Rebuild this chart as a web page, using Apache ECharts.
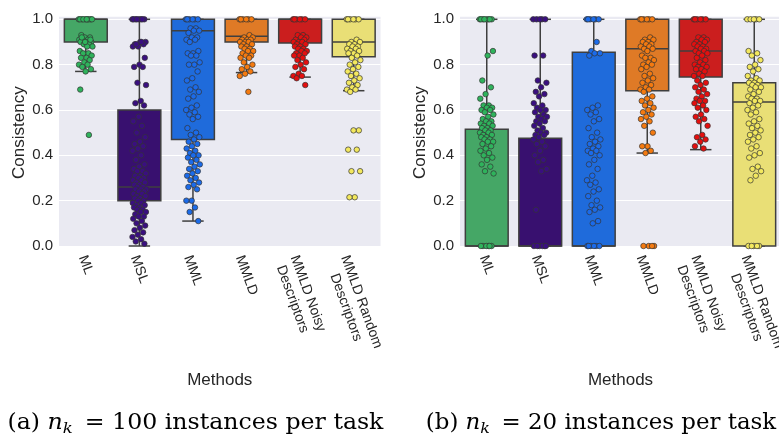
<!DOCTYPE html>
<html>
<head>
<meta charset="utf-8">
<script src="https://cdn.jsdelivr.net/npm/echarts@6/dist/echarts.min.js"></script>
<style>
  html, body { margin: 0; padding: 0; background: #ffffff; }
  #chart { width: 779px; height: 439px; }
</style>
</head>
<body>
<div id="chart"></div>
<script>
// Methods compared on the x axis
const methods = ['ML', 'MSL', 'MML', 'MMLD', 'MMLD Noisy\nDescriptors', 'MMLD Random\nDescriptors'];
const yTicks = [0, 0.2, 0.4, 0.6, 0.8, 1.0];

// Box statistics per method: [lower whisker, Q1, median, Q3, upper whisker]
const box100 = [
  [0.77, 0.90, 1.00, 1.00, 1.00],
  [0.00, 0.20, 0.26, 0.60, 1.00],
  [0.11, 0.47, 0.95, 1.00, 1.00],
  [0.765, 0.90, 0.925, 1.00, 1.00],
  [0.745, 0.895, 1.00, 1.00, 1.00],
  [0.685, 0.835, 0.90, 1.00, 1.00]
];
const box20 = [
  [0.00, 0.00, 0.00, 0.515, 1.00],
  [0.00, 0.00, 0.00, 0.475, 1.00],
  [0.00, 0.00, 0.00, 0.855, 1.00],
  [0.41, 0.685, 0.87, 1.00, 1.00],
  [0.425, 0.745, 0.86, 1.00, 1.00],
  [0.00, 0.00, 0.635, 0.72, 1.00]
];

// Per-task consistency, n_k = 100
const ml100 = [1,1,1,1,1,1,1,1,1,1,0.93,0.92,0.92,0.91,0.91,0.91,0.90,0.90,0.90,0.89,0.89,0.88,0.88,0.92,0.91,0.90,
  0.86,0.85,0.85,0.84,0.83,0.83,0.82,0.81,0.80,0.80,0.79,0.78,0.77,0.69,0.49];
const msl100 = [1,1,1,1,1,1,1,1,0.90,0.90,0.89,0.89,0.88,0.88,0.90,0.89,0.83,0.80,0.79,0.79,0.72,0.71,0.64,0.63,0.62,
  0.57,0.55,0.53,0.50,0.48,0.46,0.45,0.44,0.43,0.42,0.40,0.38,0.36,0.35,0.34,0.33,0.33,0.32,0.31,0.31,0.30,0.30,0.29,
  0.29,0.28,0.28,0.27,0.27,0.26,0.26,0.25,0.25,0.25,0.24,0.24,0.23,0.23,0.22,0.22,0.21,0.21,0.20,0.20,0.19,0.19,0.18,
  0.18,0.17,0.17,0.16,0.16,0.15,0.15,0.14,0.13,0.13,0.12,0.11,0.10,0.09,0.08,0.07,0.06,0.05,0.04,0.03,0.02,0.01];
const mml100 = [1,1,1,1,1,1,0.96,0.96,0.95,0.95,0.94,0.92,0.92,0.91,0.91,0.90,0.86,0.85,0.85,0.84,0.84,0.81,0.80,0.80,
  0.77,0.74,0.73,0.70,0.69,0.68,0.66,0.65,0.62,0.61,0.60,0.59,0.58,0.57,0.56,0.52,0.50,0.49,0.48,0.47,0.46,0.45,0.44,
  0.43,0.42,0.41,0.40,0.40,0.39,0.38,0.37,0.36,0.35,0.34,0.33,0.32,0.31,0.30,0.29,0.28,0.27,0.26,0.25,0.20,0.20,0.17,
  0.15,0.11];
const mmld100 = [1,1,1,1,1,1,0.93,0.92,0.92,0.91,0.91,0.91,0.90,0.90,0.90,0.89,0.89,0.88,0.88,0.87,0.87,0.86,0.86,0.85,
  0.84,0.84,0.83,0.83,0.81,0.80,0.79,0.78,0.77,0.76,0.75,0.68];
const noisy100 = [1,1,1,1,1,1,0.93,0.93,0.92,0.92,0.91,0.91,0.90,0.90,0.90,0.89,0.89,0.88,0.88,0.87,0.87,0.86,0.86,
  0.85,0.85,0.84,0.84,0.83,0.82,0.81,0.80,0.79,0.78,0.76,0.75,0.75,0.74,0.71];
const random100 = [1,1,1,1,1,1,0.91,0.90,0.90,0.89,0.89,0.88,0.88,0.87,0.87,0.86,0.86,0.85,0.85,0.84,0.83,0.82,0.81,
  0.80,0.79,0.78,0.77,0.76,0.75,0.74,0.73,0.72,0.71,0.70,0.69,0.69,0.68,0.51,0.51,0.425,0.425,0.33,0.33,0.215,0.215];

// Per-task consistency, n_k = 20
const ml20 = [1,1,1,1,1,1,1,1,0.86,0.84,0.73,0.70,0.67,0.65,0.62,0.62,0.61,0.61,0.60,0.60,0.59,0.58,0.57,0.56,0.55,
  0.55,0.54,0.54,0.53,0.53,0.52,0.52,0.51,0.51,0.50,0.50,0.49,0.49,0.48,0.48,0.47,0.47,0.46,0.46,0.45,0.44,0.43,0.42,
  0.41,0.40,0.39,0.38,0.36,0.35,0.33,0.32,0,0,0,0,0,0];
const msl20 = [1,1,1,1,1,0.84,0.84,0.73,0.72,0.70,0.68,0.67,0.66,0.63,0.62,0.61,0.60,0.60,0.59,0.58,0.57,0.57,0.56,
  0.55,0.55,0.54,0.53,0.52,0.51,0.50,0.50,0.49,0.49,0.48,0.47,0.46,0.45,0.44,0.42,0.40,0.38,0.37,0.34,0.33,0.16,
  0,0,0,0,0,0];
const mml20 = [1,1,1,1,1,1,0.90,0.86,0.85,0.85,0.84,0.62,0.61,0.60,0.59,0.58,0.56,0.55,0.52,0.50,0.48,0.47,0.46,0.45,
  0.44,0.43,0.42,0.42,0.41,0.40,0.38,0.36,0.34,0.31,0.29,0.28,0.27,0.25,0.24,0.22,0.20,0.18,0.17,0.16,0.15,0.11,0.10,
  0,0,0,0,0,0];
const mmld20 = [1,1,1,1,1,1,0.92,0.91,0.91,0.90,0.90,0.89,0.89,0.88,0.88,0.87,0.87,0.86,0.84,0.83,0.83,0.82,0.81,0.80,
  0.80,0.79,0.78,0.76,0.75,0.74,0.73,0.72,0.71,0.70,0.69,0.69,0.68,0.66,0.65,0.64,0.63,0.62,0.61,0.60,0.59,0.58,0.57,
  0.56,0.55,0.53,0.50,0.44,0.44,0.42,0.41,0,0,0,0];
const noisy20 = [1,1,1,1,1,1,0.92,0.92,0.91,0.91,0.90,0.90,0.89,0.89,0.88,0.88,0.87,0.87,0.86,0.86,0.85,0.85,0.84,0.83,
  0.82,0.81,0.80,0.80,0.79,0.79,0.78,0.78,0.77,0.76,0.75,0.75,0.73,0.72,0.71,0.70,0.69,0.68,0.67,0.66,0.65,0.64,0.64,
  0.63,0.62,0.61,0.60,0.58,0.57,0.56,0.55,0.53,0.49,0.48,0.47,0.46,0.44,0.43];
const random20 = [1,1,1,1,1,0.86,0.85,0.84,0.82,0.80,0.79,0.78,0.77,0.75,0.74,0.73,0.73,0.72,0.72,0.71,0.71,0.70,0.70,
  0.69,0.68,0.67,0.66,0.65,0.65,0.64,0.64,0.63,0.62,0.61,0.60,0.59,0.58,0.56,0.55,0.54,0.53,0.52,0.51,0.50,0.49,0.48,
  0.47,0.46,0.44,0.43,0.41,0.40,0.39,0.35,0.34,0.33,0.31,0.29,0,0,0,0,0];

const points100 = [ml100, msl100, mml100, mmld100, noisy100, random100];
const points20 = [ml20, msl20, mml20, mmld20, noisy20, random20];

// Palette: muted box fills, brighter dots
const boxColors = ['#45a766', '#38106f', '#1f6bdb', '#df7a26', '#cb1e1e', '#e9df76'];
const dotColors = ['#2fb35c', '#3a0f80', '#1b6bea', '#f47a10', '#e40f0f', '#f3e85e'];
const edgeColor = '#3f3f3f';
const textColor = '#262626';
const panelBg = '#eaeaf2';
const sansFont = 'Liberation Sans';
const tickFontSize = 14;
const tickLineHeight = 16.5;
const labelAngle = 70;
const labelTopGap = 7;

// Deterministic horizontal spread for the strip points
function spread(i) {
  return (((i * 0.6180339887) % 1) - 0.5) * 0.26;
}

function renderBox(params, api) {
  const x = api.value(0);
  const lo = api.coord([x, api.value(1)]);
  const q1 = api.coord([x, api.value(2)]);
  const md = api.coord([x, api.value(3)]);
  const q3 = api.coord([x, api.value(4)]);
  const hi = api.coord([x, api.value(5)]);
  const w = api.size([0.8, 0])[0];
  const cx = q1[0];
  const lineStyle = { stroke: edgeColor, lineWidth: 1.5 };
  return {
    type: 'group',
    children: [
      { type: 'line', shape: { x1: cx, y1: q1[1], x2: cx, y2: lo[1] }, style: lineStyle },
      { type: 'line', shape: { x1: cx, y1: q3[1], x2: cx, y2: hi[1] }, style: lineStyle },
      { type: 'line', shape: { x1: cx - w / 4, y1: lo[1], x2: cx + w / 4, y2: lo[1] }, style: lineStyle },
      { type: 'line', shape: { x1: cx - w / 4, y1: hi[1], x2: cx + w / 4, y2: hi[1] }, style: lineStyle },
      { type: 'rect', shape: { x: cx - w / 2, y: q3[1], width: w, height: q1[1] - q3[1] },
        style: { fill: boxColors[params.dataIndex], stroke: edgeColor, lineWidth: 1.5 } },
      { type: 'line', shape: { x1: cx - w / 2, y1: md[1], x2: cx + w / 2, y2: md[1] }, style: lineStyle }
    ]
  };
}

function panelAxes(gridIndex) {
  return {
    x: [
      {
        gridIndex, type: 'category', data: methods,
        axisLine: { show: false }, axisTick: { show: false }, splitLine: { show: false },
        axisLabel: { show: false },
        name: 'Methods', nameLocation: 'middle', nameGap: 126,
        nameTextStyle: { fontFamily: sansFont, fontSize: 17, color: textColor }
      },
      { gridIndex, type: 'value', min: -0.5, max: 5.5, show: false }
    ],
    y: {
      gridIndex, type: 'value', min: 0, max: 1, interval: 0.2,
      axisLine: { show: false }, axisTick: { show: false },
      splitLine: { show: true, lineStyle: { color: '#ffffff', width: 1.2 } },
      axisLabel: { margin: 6, fontFamily: sansFont, fontSize: 15, color: textColor,
        formatter: v => yTicks.some(t => Math.abs(t - v) < 1e-9) ? v.toFixed(1) : '' },
      name: 'Consistency', nameLocation: 'middle', nameGap: 31,
      nameTextStyle: { fontFamily: sansFont, fontSize: 17, color: textColor }
    }
  };
}

const axes0 = panelAxes(0);
const axes1 = panelAxes(1);

function panelSeries(boxes, pts, xValueAxis, yAxis) {
  const list = [{
    type: 'custom', xAxisIndex: xValueAxis, yAxisIndex: yAxis, z: 2,
    renderItem: renderBox,
    data: boxes.map((b, i) => [i].concat(b))
  }];
  pts.forEach((vals, g) => {
    list.push({
      type: 'scatter', xAxisIndex: xValueAxis, yAxisIndex: yAxis, z: 3, clip: false,
      symbolSize: 5.5,
      itemStyle: { color: dotColors[g], borderColor: '#333333', borderWidth: 0.7, opacity: 1 },
      data: vals.map((v, i) => [g + spread(i), v])
    });
  });
  return list;
}

function caption(letter, n, cx, stretch) {
  return {
    type: 'text', x: cx, y: 423, z: 10, scaleX: stretch,
    style: {
      text: '{n|(' + letter + ') }{i|n}{k|k}{n| = ' + n + ' instances per task}',
      align: 'center', verticalAlign: 'middle',
      rich: {
        n: { fontFamily: 'DejaVu Serif', fontSize: 21.5, color: '#111111', lineHeight: 28, verticalAlign: 'middle' },
        i: { fontFamily: 'DejaVu Serif', fontStyle: 'italic', fontSize: 21.5, color: '#111111', lineHeight: 28, verticalAlign: 'middle' },
        k: { fontFamily: 'DejaVu Serif', fontStyle: 'italic', fontSize: 15, color: '#111111', lineHeight: 15, verticalAlign: 'bottom', padding: [0, 4, 0, 0] }
      }
    }
  };
}

const baseGraphics = [
  { type: 'rect', left: 59, top: 16.7, z: -10, shape: { width: 321.5, height: 229.3 }, style: { fill: panelBg } },
  { type: 'rect', left: 460, top: 16.7, z: -10, shape: { width: 330, height: 229.3 }, style: { fill: panelBg } },
  caption('a', 100, 195.5, 1.1),
  caption('b', 20, 601, 1.065)
];

const chart = echarts.init(document.getElementById('chart'), null, { renderer: 'canvas' });
chart.setOption({
  backgroundColor: '#ffffff',
  animation: false,
  grid: [
    { left: 59, right: 398.5, top: 19.3, bottom: 193, outerBoundsMode: 'none', containLabel: false },
    { left: 460, right: -2, top: 19.3, bottom: 193, outerBoundsMode: 'none', containLabel: false }
  ],
  xAxis: [axes0.x[0], axes0.x[1], axes1.x[0], axes1.x[1]],
  yAxis: [axes0.y, axes1.y],
  graphic: baseGraphics,
  series: panelSeries(box100, points100, 1, 0).concat(panelSeries(box20, points20, 3, 1))
});

// Rotated method labels: each rotated block is centred under its tick,
// with its top edge a fixed gap below the axis.
const measureCtx = document.createElement('canvas').getContext('2d');
measureCtx.font = tickFontSize + 'px "' + sansFont + '"';
const angle = labelAngle * Math.PI / 180;
const tickLabels = [];
[[1, 0], [3, 1]].forEach(([xAxisIndex, yAxisIndex]) => {
  const axisY = chart.convertToPixel({ yAxisIndex }, 0);
  methods.forEach((name, i) => {
    const lines = name.split('\n');
    const L = Math.max.apply(null, lines.map(s => measureCtx.measureText(s).width));
    const H = lines.length * tickLineHeight;
    const px = chart.convertToPixel({ xAxisIndex }, i);
    tickLabels.push({
      type: 'text', z: 10,
      x: px,
      y: axisY + labelTopGap + (L / 2) * Math.sin(angle) + (H / 2) * Math.cos(angle),
      rotation: -angle,
      style: {
        text: name, align: 'center', verticalAlign: 'middle',
        fontFamily: sansFont, fontSize: tickFontSize, lineHeight: tickLineHeight, fill: textColor
      }
    });
  });
});
chart.setOption({ graphic: baseGraphics.concat(tickLabels) });
</script>
</body>
</html>
